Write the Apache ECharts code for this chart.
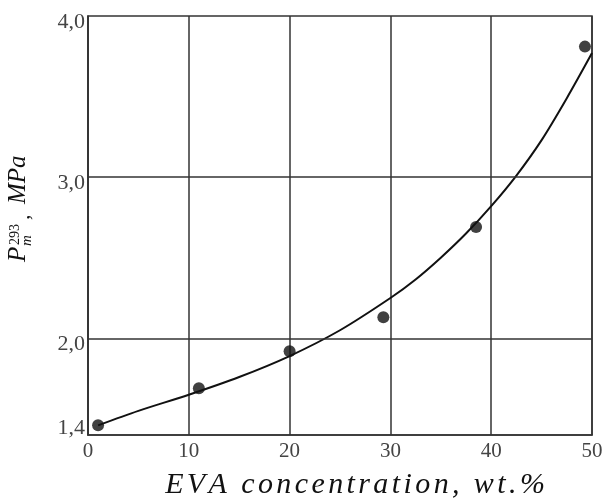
<!DOCTYPE html>
<html>
<head>
<meta charset="utf-8">
<script src="https://cdn.jsdelivr.net/npm/echarts@6/dist/echarts.min.js"></script>
<style>
html,body{margin:0;padding:0;background:#fff;}
#c{width:602px;height:500px;}
</style>
</head>
<body>
<div id="c"></div>
<script>
// measured points
const pointsX = [1.0, 11.0, 20.0, 29.3, 38.5, 49.3];
const pointsY = [1.46, 1.69, 1.92, 2.13, 2.69, 3.81];
// fitted curve
const curveX = [1, 5, 10, 15, 20, 25, 30, 32.5, 35, 37.5, 40, 42.5, 45, 47.5, 50];
const curveY = [1.46, 1.55, 1.65, 1.76, 1.89, 2.05, 2.25, 2.365, 2.50, 2.65, 2.82, 3.01, 3.23, 3.49, 3.77];
// axis ticks
const xTicks = [0, 10, 20, 30, 40, 50];
const yTickLabels = [1.4, 2.0, 3.0, 4.0];
const yGridLines = [2.0, 3.0];
const xTitle = 'EVA concentration, wt.%';

const lineColor = '#333';
const labelColor = '#444';
const font = '"Liberation Serif", "Times New Roman", serif';

const chart = echarts.init(document.getElementById('c'), null, {renderer: 'canvas'});

function fmt(v) { return v.toFixed(1).replace('.', ','); }
function spaced(s) { return s.split('').map(ch => '{c|' + ch + '}').join(''); }

chart.setOption({
  backgroundColor: '#fff',
  animation: false,
  grid: {
    left: 88, right: 10, top: 16, bottom: 65,
    outerBoundsMode: 'none',
    containLabel: false,
    show: true, borderColor: lineColor, borderWidth: 1.5, backgroundColor: 'transparent'
  },
  xAxis: {
    type: 'value',
    min: xTicks[0], max: xTicks[xTicks.length - 1], interval: 10,
    axisLine: {show: true, lineStyle: {color: lineColor, width: 1.5}},
    axisTick: {show: false},
    splitLine: {show: true, lineStyle: {color: lineColor, width: 1.5}},
    axisLabel: {color: labelColor, fontFamily: font, fontSize: 21, margin: 6},
    name: spaced(xTitle),
    nameLocation: 'middle',
    nameGap: 35,
    nameTextStyle: {
      color: '#111', fontFamily: font, fontStyle: 'italic', fontSize: 30,
      padding: [0, 0, 0, 30],
      rich: {c: {color: '#111', fontFamily: font, fontStyle: 'italic', fontSize: 30, padding: [0, 1.7, 0, 1.7]}}
    }
  },
  yAxis: {
    type: 'value',
    min: 1.4, max: 4.0, interval: 0.2,
    axisLine: {show: true, lineStyle: {color: lineColor, width: 1.5}},
    axisTick: {show: false},
    splitLine: {show: false},
    axisLabel: {
      color: labelColor, fontFamily: font, fontSize: 22, margin: 3,
      formatter: function (v) {
        for (const t of yTickLabels) {
          if (Math.abs(v - t) < 1e-6) {
            if (t === yTickLabels[0]) return '{low|' + fmt(t) + '}';
            return '{n|' + fmt(t) + '}';
          }
        }
        return '';
      },
      rich: {
        low: {fontFamily: font, fontSize: 22, color: labelColor, padding: [0, 0, 14, 0]},
        n: {fontFamily: font, fontSize: 22, color: labelColor, padding: [12, 0, 0, 0]}
      }
    }
  },
  graphic: [{
    type: 'group',
    x: 31, y: 262,
    rotation: Math.PI / 2,
    children: [
      {type: 'text', x: 0, y: 0, style: {text: 'P', font: 'italic 25px ' + font, fill: '#111', textVerticalAlign: 'bottom'}},
      {type: 'text', x: 17, y: -9, style: {text: '293', font: '14px ' + font, fill: '#111', textVerticalAlign: 'bottom'}},
      {type: 'text', x: 16, y: 4, style: {text: 'm', font: 'italic 15px ' + font, fill: '#111', textVerticalAlign: 'bottom'}},
      {type: 'text', x: 42, y: 3, style: {text: ',', font: 'italic 22px ' + font, fill: '#111', textVerticalAlign: 'bottom'}},
      {type: 'text', x: 58, y: 0, style: {text: 'MPa', font: 'italic 25px ' + font, fill: '#111', textVerticalAlign: 'bottom'}}
    ]
  }],
  series: [
    {
      type: 'line',
      data: curveX.map((x, i) => [x, curveY[i]]),
      smooth: 0.3,
      showSymbol: false,
      symbol: 'none',
      lineStyle: {color: '#111', width: 2},
      silent: true,
      z: 3,
      markLine: {
        silent: true,
        symbol: 'none',
        label: {show: false},
        lineStyle: {color: lineColor, width: 1.5, type: 'solid'},
        data: yGridLines.map(v => ({yAxis: v}))
      }
    },
    {
      type: 'scatter',
      data: pointsX.map((x, i) => [x, pointsY[i]]),
      symbol: 'circle',
      symbolSize: 12,
      itemStyle: {color: '#111'},
      z: 4
    }
  ]
});
</script>
</body>
</html>
